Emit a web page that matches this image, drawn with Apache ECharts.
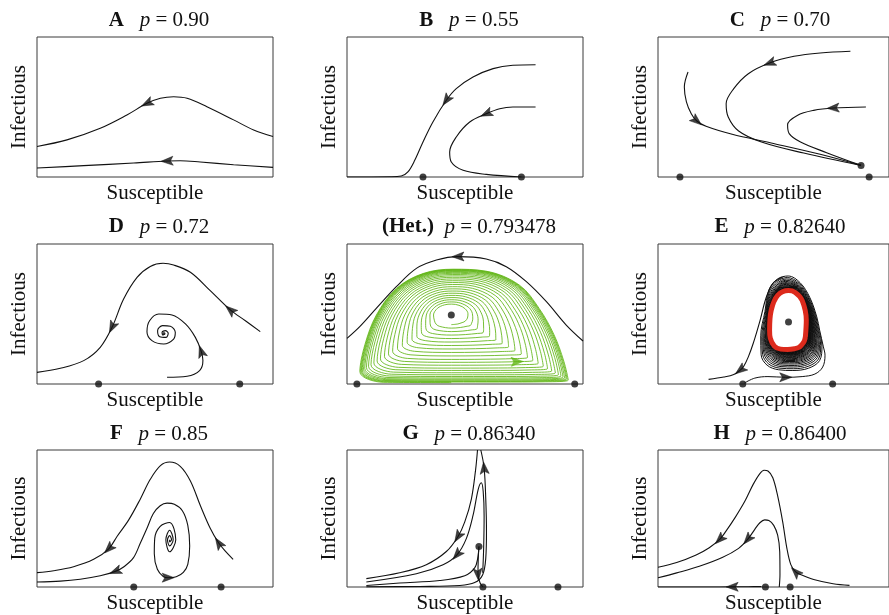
<!DOCTYPE html>
<html><head><meta charset="utf-8">
<script src="https://cdn.jsdelivr.net/npm/echarts@6.0.0/dist/echarts.min.js"></script>
<style>html,body{margin:0;padding:0;background:#fff}#c{width:889px;height:615px}</style>
</head><body><div id="c"></div><script>
// ---- data (normalised panel coords: x 0..100 left->right, y 0..100 bottom->top) ----
const titles = ['{b|A}{i|   p}{r| = 0.90}','{b|B}{i|   p}{r| = 0.55}','{b|C}{i|   p}{r| = 0.70}',
  '{b|D}{i|   p}{r| = 0.72}','{b|(Het.)}{i|  p}{r| = 0.793478}','{b|E}{i|   p}{r| = 0.82640}',
  '{b|F}{i|   p}{r| = 0.85}','{b|G}{i|   p}{r| = 0.86340}','{b|H}{i|   p}{r| = 0.86400}'];
const xName = 'Susceptible', yName = 'Infectious';

const A_upper = [[100,28.9],[91.8,33.6],[83.3,40.8],[72.0,50.2],[63.6,56.2],[57.9,57.3],[52.3,56.2],[46.6,52.6],[38.1,44.3],[26.8,34.8],[12.7,26.5],[0,21.8]];
const A_lower = [[100,6.9],[83.3,8.8],[69.2,10.7],[60.7,11.6],[55.1,11.4],[41.0,10.0],[19.8,8.1],[0,6.4]];

const B_outer = [[79.9,80.2],[70.3,79.8],[61.9,77.4],[53.4,71.4],[46.3,63.1],[42.1,54.8],[36.4,39.3],[32.2,25.0],[28.7,11.9],[25.8,3.6],[23.0,0.7],[18.1,0.2],[0,0]];
const B_inner = [[79.9,50],[70.3,50],[64.7,48.8],[59.0,45.2],[52.0,39.3],[46.3,28.6],[43.5,17.9],[44.2,10.7],[49.2,4.8],[59.0,1.9],[73.9,0]];
const B_dots = [[32.2,0],[73.9,0]];

const C_1 = [[13.0,75.0],[11.4,64.3],[12.3,53.6],[14.4,45.2],[16.8,40.0],[20.8,36.2],[32.1,30.5],[49.0,24.3],[70.2,16.2],[87.9,8.3]];
const C_2 = [[83.3,89.8],[70.2,88.6],[58.9,86.2],[48.3,81.4],[39.1,73.8],[32.8,63.1],[29.5,52.4],[30.4,42.9],[34.9,32.9],[44.8,25.0],[63.1,17.1],[87.9,8.3]];
const C_3 = [[90.0,50],[75.8,49.3],[67.4,47.6],[60.3,44.0],[56.1,37.4],[56.8,31.0],[61.7,25.0],[73.0,17.4],[87.9,8.3]];
const C_dots = [[9.5,0],[91.4,0],[87.9,8.3]];

const D_outer = [[94.6,37.4],[88.3,45.2],[81.9,52.9],[73.4,66.7],[65.0,79.8],[57.9,85.0],[53.4,86.2],[48.0,84.0],[42.4,76.2],[36.7,60.7],[31.8,40.5],[26.8,26.2],[19.8,16.7],[9.9,11.2],[0,8.3]];
const D_spiral = [[55.1,4.8],[63.6,5.5],[68.9,9.5],[70.3,16.7],[69.6,23.3],[67.1,33.3],[62.9,42.9],[57.2,49.3],[51.6,50.0],[47.7,45.2],[46.6,37.4],[48.7,31.0],[53.7,28.6],[57.9,32.1],[58.6,36.9],[56.5,41.2],[53.2,41.7],[51.1,38.1],[52.0,33.8],[54.7,33.3],[55.6,36.2],[54.4,38.1],[53.0,37.0],[53.4,35.0],[54.2,36.0]];
const D_dots = [[26.1,0],[85.9,0]];
const D_core = [[53.8,36.0]];

const Het_black = [[100,30.7],[92.9,42.1],[84.5,58.8],[76.0,73.1],[67.5,83.8],[59.0,89.3],[47.0,91.0],[37.9,88.6],[29.4,82.6],[20.9,69.5],[12.4,54.0],[5.4,41.0],[0,32.6]];
const Het_outerRing = [[44.2,1.0],[64.7,1.0],[84.5,1.2],[94.1,2.4],[92.2,16.0],[88.0,35.0],[81.6,54.0],[73.2,70.7],[59.0,80.7],[44.9,82.1],[32.2,79.0],[20.9,68.3],[12.4,49.3],[7.5,27.9],[5.4,8.8],[15.3,1.2]];
const Het_center = [44.2,49.3];
const Het_holeRadii = [6.4,6.9];
const Het_loopLevels = [0,0.06,0.12,0.18,0.24,0.30,0.36,0.42,0.48,0.54,0.6,0.65,0.7,0.75,0.79,0.83,0.865,0.895,0.92,0.94,0.955,0.97,0.98,0.99,1.0];
const Het_arrowAt = [73.9,17.1];
const Het_dots = [[4.2,0],[96.5,0],[44.2,49.3]];

const E_red = [[63.8,33.6],[64.2,45.5],[62.4,59.7],[59.4,65.4],[56.5,66.8],[51.8,63.3],[49.0,52.6],[48.3,38.4],[48.6,32.7],[50.4,27.0],[53.1,24.9],[56.1,24.7],[59.1,25.2],[61.0,26.1],[62.4,28.4],[63.3,30.6]];
const E_outerRing = [[71.6,26.5],[70.0,38.4],[68.8,47.8],[65.8,61.8],[61.6,72.5],[56.5,77.5],[51.8,75.7],[48.0,68.2],[46.2,52.6],[44.2,34.8],[44.2,20.6],[46.7,12.8],[51.8,9.2],[58.2,8.5],[65.4,10.0],[70.5,15.6]];
const E_loopLevels = [1,0.92,0.85,0.78,0.72,0.66,0.61,0.56,0.52,0.48,0.44,0.41,0.38,0.35,0.32,0.29,0.27,0.25,0.23,0.21,0.19,0.17,0.155,0.14,0.125,0.11,0.1,0.09,0.08,0.07,0.06,0.05,0.04,0.032,0.025,0.018,0.012,0.007,0.003,0];
const E_inflow = [[37.4,0.7],[41.9,4.2],[47.6,5.3],[55.3,4.8],[62.4,5.3],[67.9,7.1],[71.3,12.1],[72.3,20.6]];
const E_outflow = [[54.0,76.4],[49.7,71.7],[46.7,61.1],[44.2,45.5],[41.2,28.9],[39.1,19.4],[37.0,12.3],[35.6,9.9],[32.8,6.8],[28.5,5.0],[21.9,3.3]];
const E_dots = [[36.7,0],[75.6,0],[56.5,44.3]];

const F_outer = [[83.1,20.2],[79.8,26.2],[77.0,32.1],[73.4,42.9],[69.2,59.5],[65.0,77.4],[60.7,88.1],[56.2,91.2],[52.3,88.6],[48.0,78.6],[43.8,64.3],[38.8,48.8],[33.9,36.9],[30.4,27.9],[24.0,20.2],[15.5,14.8],[7.1,11.9],[0,10.5]];
const F_spiral = [[56.2,34.5],[56.2,32.9],[57.0,34.5],[56.2,37.5],[55.3,34.5],[56.2,30.0],[57.7,34.5],[56.2,41.4],[54.6,34.5],[56.2,25.7],[58.8,34.5],[56.2,47.1],[52.2,44.3],[49.9,35.7],[49.7,24.3],[51.0,12.9],[53.6,7.5],[55.6,6.8],[59.0,7.5],[62.0,10.7],[63.9,16.6],[64.7,30.0],[63.9,45.0],[61.6,55.7],[58.2,60.4],[55.1,61.2],[52.2,59.3],[49.3,53.6],[46.6,42.9],[43.8,32.1],[40.9,21.4],[37.0,15.0],[33.2,11.4],[26.8,8.2],[18.3,5.7],[9.9,4.3],[0,3.6]];
const F_dots = [[41.0,0],[78.0,0]];

const G_1 = [[55.3,100],[54.5,85.7],[52.7,64.2],[49.9,47.5],[47.0,36.7],[42.1,25.9],[33.6,16.3],[22.3,10.4],[8.2,6.1]];
const G_2 = [[57.5,10.4],[57.9,28.3],[58.1,52.0],[57.7,69.9],[56.9,76.1],[55.6,71.3],[53.4,52.2],[50.6,35.5],[46.6,23.5],[40.7,16.3],[29.4,9.7],[8.2,3.7]];
const G_3 = [[8.2,0.1],[30.8,0.4],[47.8,1.1],[54.1,3.2],[57.5,9.0],[58.8,21.1],[59.1,40.5],[58.8,64.2],[58.1,86.9],[56.7,100]];
const G_4 = [[8.2,1.1],[22.3,2.9],[39.3,4.7],[49.9,8.2],[54.1,14.0],[55.4,21.1],[55.9,29.5]];
const G_5 = [[55.9,29.5],[55.6,19.7],[55.5,9.2],[56.4,2.9],[57.6,0.1]];
const G_dots = [[57.6,0],[89.4,0],[55.9,29.5]];

const H_1 = [[82.9,1.2],[75.8,2.4],[67.4,5.5],[61.7,9.1],[59.6,11.0],[57.5,16.3],[55.8,28.2],[54.0,47.4],[51.8,66.5],[49.7,79.7],[47.6,84.7],[45.9,85.2],[44.1,82.8],[41.2,74.9],[37.7,62.9],[33.5,51.0],[29.2,40.2],[26.7,34.7],[22.2,28.7],[16.5,23.4],[8.1,17.9],[0,14.4]];
const H_2 = [[52.5,0],[52.8,9.1],[52.7,25.8],[51.8,37.8],[50.1,45.0],[48.0,48.6],[46.2,49.0],[44.1,46.9],[41.9,42.1],[38.8,34.7],[34.9,28.2],[27.8,21.5],[17.9,15.1],[8.1,10.3],[0,6.7]];
const H_3 = [[44.8,0.3],[39.1,0.2],[32.1,0.1],[20.8,0],[0,0]];
const H_dots = [[46.5,0],[57.2,0]];

// ---- layout / style ----
const W = 236, HH = 140;
const lefts = [37, 347, 658], tops = [37, 244, 450];
const titleY = [20.5, 227, 434];
const FONT = 'Liberation Serif';
const INK = '#111';
const GREEN = '#60b514', RED = '#dc2a1c';
const ARROW = 'path://M5,0 L10,12 L5,9.4 L0,12 Z';

function ringSpiral(outer, inner, levels) {
  const n = outer.length, pts = [];
  const at = (j, t) => [inner[j][0] + t * (outer[j][0] - inner[j][0]), inner[j][1] + t * (outer[j][1] - inner[j][1])];
  for (let k = 0; k < levels.length - 1; k++)
    for (let j = 0; j < n; j++) pts.push(at(j, levels[k] + (levels[k + 1] - levels[k]) * j / n));
  pts.push(at(0, levels[levels.length - 1]));
  return pts;
}
const Het_innerRing = Het_outerRing.map(p => {
  const dx = p[0] - Het_center[0], dy = p[1] - Het_center[1];
  const s = 1 / Math.sqrt((dx / Het_holeRadii[0]) ** 2 + (dy / Het_holeRadii[1]) ** 2);
  return [Het_center[0] + dx * s, Het_center[1] + dy * s];
});
const Het_spiral = ringSpiral(Het_outerRing, Het_innerRing, Het_loopLevels);
let hetIdx = 0, best = 1e9;
Het_spiral.forEach((p, i) => { const d = (p[0] - Het_arrowAt[0]) ** 2 + (p[1] - Het_arrowAt[1]) ** 2; if (d < best && i > 0) { best = d; hetIdx = i; } });
const E_spiral = E_inflow.concat(ringSpiral(E_outerRing, E_red, E_loopLevels));
const E_redLoop = E_red.concat([E_red[0]]);

const panels = [
  {curves: [{d: A_upper}, {d: A_lower}], arrows: [[0, 7], [1, 4]], dots: []},
  {curves: [{d: B_outer}, {d: B_inner}], arrows: [[0, 5], [1, 3]], dots: B_dots},
  {curves: [{d: C_1}, {d: C_2}, {d: C_3}], arrows: [[0, 4], [1, 3], [2, 1]], dots: C_dots},
  {curves: [{d: D_outer}, {d: D_spiral}], arrows: [[0, 2], [0, 10], [1, 4]], dots: D_dots, small: D_core},
  {curves: [{d: Het_spiral, c: GREEN, w: 0.85}, {d: Het_black}], arrows: [[1, 6], [0, hetIdx, GREEN]], dots: Het_dots},
  {curves: [{d: E_spiral, w: 1.0}, {d: E_outflow}, {d: E_redLoop, c: RED, w: 5}], arrows: [[0, 3], [1, 7]], dots: E_dots},
  {curves: [{d: F_outer}, {d: F_spiral}], arrows: [[0, 2], [0, 13], [1, 17], [1, 32]], dots: F_dots},
  {curves: [{d: G_1}, {d: G_2}, {d: G_3}, {d: G_4}, {d: G_5}], arrows: [[0, 4], [1, 8], [2, 8], [4, 2]], dots: G_dots},
  {curves: [{d: H_1}, {d: H_2}, {d: H_3}], arrows: [[0, 4], [0, 17], [1, 9], [2, 2]], dots: H_dots}
];

const grid = [], xAxis = [], yAxis = [], series = [], graphic = [];
panels.forEach((p, i) => {
  const r = Math.floor(i / 3), c = i % 3;
  grid.push({left: lefts[c], top: tops[r], width: W, height: HH, show: true, borderColor: '#3a3a3a', borderWidth: 1, backgroundColor: 'transparent'});
  const base = {gridIndex: i, type: 'value', min: 0, max: 100, axisLine: {show: false}, axisTick: {show: false}, axisLabel: {show: false}, splitLine: {show: false}, nameLocation: 'middle', nameTextStyle: {fontFamily: FONT, fontSize: 21, color: INK}};
  xAxis.push(Object.assign({}, base, {name: xName, nameGap: 6}));
  yAxis.push(Object.assign({}, base, {name: yName, nameGap: 7, nameRotate: 90}));
  p.curves.forEach(cv => series.push({type: 'line', xAxisIndex: i, yAxisIndex: i, data: cv.d, smooth: 0.35, showSymbol: false, symbol: 'none', silent: true, animation: false, lineStyle: {color: cv.c || INK, width: cv.w || 1.1}, z: cv.c === RED ? 4 : 2}));
  const arrowData = p.arrows.map(a => {
    const cv = p.curves[a[0]].d, k = a[1];
    const pa = cv[Math.max(k - 1, 0)], pb = cv[Math.min(k + 1, cv.length - 1)];
    const deg = Math.atan2((pb[1] - pa[1]) * HH / 100, (pb[0] - pa[0]) * W / 100) * 180 / Math.PI - 90;
    return {value: cv[k], symbolRotate: deg, itemStyle: {color: a[2] || INK, borderColor: a[2] || INK, borderWidth: 0.6}};
  });
  series.push({type: 'scatter', xAxisIndex: i, yAxisIndex: i, data: arrowData, symbol: ARROW, symbolSize: [9, 12], silent: true, animation: false, clip: false, z: 5});
  if (p.dots.length) series.push({type: 'scatter', xAxisIndex: i, yAxisIndex: i, data: p.dots, symbol: 'circle', symbolSize: 7, itemStyle: {color: INK}, silent: true, animation: false, clip: false, z: 6});
  if (p.small) series.push({type: 'scatter', xAxisIndex: i, yAxisIndex: i, data: p.small, symbol: 'circle', symbolSize: 3, itemStyle: {color: INK}, silent: true, animation: false, z: 6});
  graphic.push({type: 'text', x: lefts[c] + W / 2 + 4, y: titleY[r], silent: true,
    style: {text: titles[i], align: 'center', verticalAlign: 'middle', fill: INK, fontFamily: FONT, fontSize: 21,
      rich: {b: {fontFamily: FONT, fontSize: 21, fontWeight: 'bold', fill: INK}, i: {fontFamily: FONT, fontSize: 21, fontStyle: 'italic', fill: INK}, r: {fontFamily: FONT, fontSize: 21, fill: INK}}}});
});

const chart = echarts.init(document.getElementById('c'), null, {renderer: 'canvas'});
chart.setOption({animation: false, backgroundColor: '#fff', grid, xAxis, yAxis, series, graphic});
</script></body></html>
